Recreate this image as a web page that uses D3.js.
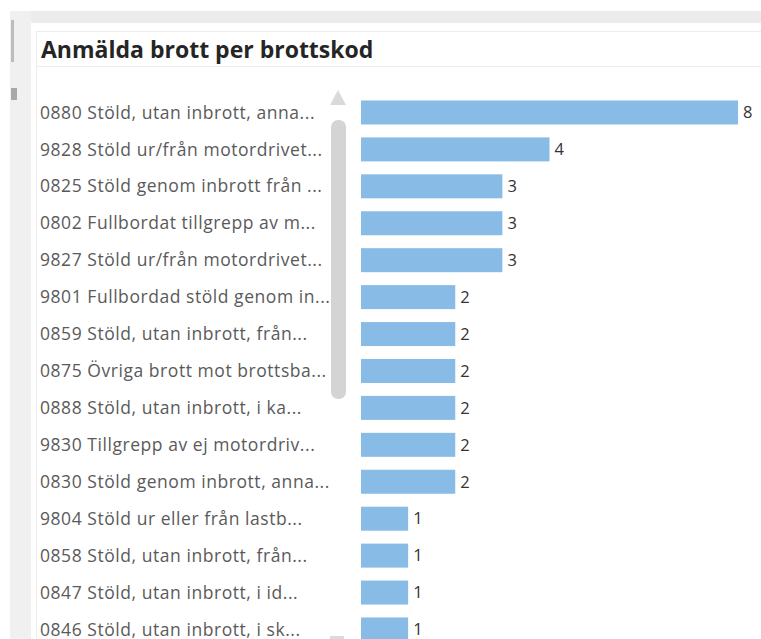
<!DOCTYPE html>
<html>
<head>
<meta charset="utf-8">
<script src="https://cdn.jsdelivr.net/npm/d3@7"></script>
<style>
  body { margin: 0; background: #fff; font-family: "Open Sans", "Noto Sans", sans-serif; }
</style>
</head>
<body>
<div id="chart"></div>
<script>
    var w = 761;
    var h = 639;

    // crime codes (labels are truncated like in the report)
    var categories = [
        "0880 Stöld, utan inbrott, anna...",
        "9828 Stöld ur/från motordrivet...",
        "0825 Stöld genom inbrott från ...",
        "0802 Fullbordat tillgrepp av m...",
        "9827 Stöld ur/från motordrivet...",
        "9801 Fullbordad stöld genom in...",
        "0859 Stöld, utan inbrott, från...",
        "0875 Övriga brott mot brottsba...",
        "0888 Stöld, utan inbrott, i ka...",
        "9830 Tillgrepp av ej motordriv...",
        "0830 Stöld genom inbrott, anna...",
        "9804 Stöld ur eller från lastb...",
        "0858 Stöld, utan inbrott, från...",
        "0847 Stöld, utan inbrott, i id...",
        "0846 Stöld, utan inbrott, i sk..."
    ];
    var counts = [8, 4, 3, 3, 3, 2, 2, 2, 2, 2, 2, 1, 1, 1, 1];

    var svg = d3.select("#chart")
            .append("svg")
            .attr("width", w)
            .attr("height", h);

    // surrounding dashboard chrome
    svg.append("rect").attr("x", 10).attr("y", 11).attr("width", w - 10).attr("height", 12).attr("fill", "#ececec");
    svg.append("rect").attr("x", 10).attr("y", 11).attr("width", 21).attr("height", h).attr("fill", "#f0f0f0");
    svg.append("rect").attr("x", 11).attr("y", 20).attr("width", 3).attr("height", 42).attr("fill", "#bdbdbd");
    svg.append("rect").attr("x", 11).attr("y", 88).attr("width", 6).attr("height", 12).attr("fill", "#a8a8a8");

    // card border and title divider
    svg.append("line").attr("x1", 36).attr("x2", w).attr("y1", 31.5).attr("y2", 31.5).attr("stroke", "#ececec");
    svg.append("line").attr("x1", 36.5).attr("x2", 36.5).attr("y1", 31).attr("y2", h).attr("stroke", "#ececec");
    svg.append("line").attr("x1", 36).attr("x2", w).attr("y1", 66.5).attr("y2", 66.5).attr("stroke", "#ececec");

    svg.append("text")
        .attr("x", 41)
        .attr("y", 58)
        .attr("font-size", 23)
        .attr("font-weight", "bold")
        .attr("fill", "#252525")
        .text("Anmälda brott per brottskod");

    var y = d3.scaleBand()
        .domain(categories)
        .range([94, 94 + categories.length * 36.93])
        .paddingInner(0.35)
        .paddingOuter(0.175);

    var x = d3.scaleLinear()
        .domain([0, 8])
        .range([361, 738]);

    // category labels
    svg.selectAll("text.cat")
        .data(categories)
        .enter()
        .append("text")
        .attr("class", "cat")
        .attr("x", 40)
        .attr("y", function(d) { return y(d) + y.bandwidth() / 2; })
        .attr("dy", "0.35em")
        .attr("font-size", 17.5)
        .attr("letter-spacing", 0.55)
        .attr("fill", "#5a5a5a")
        .text(function(d) { return d; });

    // bars
    svg.selectAll("rect.bar")
        .data(counts)
        .enter()
        .append("rect")
        .attr("class", "bar")
        .attr("x", x(0))
        .attr("y", function(d, i) { return y(categories[i]); })
        .attr("width", function(d) { return x(d) - x(0); })
        .attr("height", y.bandwidth())
        .attr("fill", "#88bce6");

    // value labels
    svg.selectAll("text.val")
        .data(counts)
        .enter()
        .append("text")
        .attr("class", "val")
        .attr("x", function(d) { return x(d) + 5; })
        .attr("y", function(d, i) { return y(categories[i]) + y.bandwidth() / 2; })
        .attr("dy", "0.35em")
        .attr("font-size", 16.5)
        .attr("fill", "#333")
        .text(function(d) { return d; });

    // scrollbar
    svg.append("path").attr("d", "M330,105 L338,90 L346,105 Z").attr("fill", "#dadada");
    svg.append("rect").attr("x", 331).attr("y", 120).attr("width", 15).attr("height", 279).attr("rx", 7).attr("fill", "#d4d4d4");
    svg.append("rect").attr("x", 330).attr("y", 636).attr("width", 14).attr("height", 3).attr("fill", "#dadada");
</script>
</body>
</html>
